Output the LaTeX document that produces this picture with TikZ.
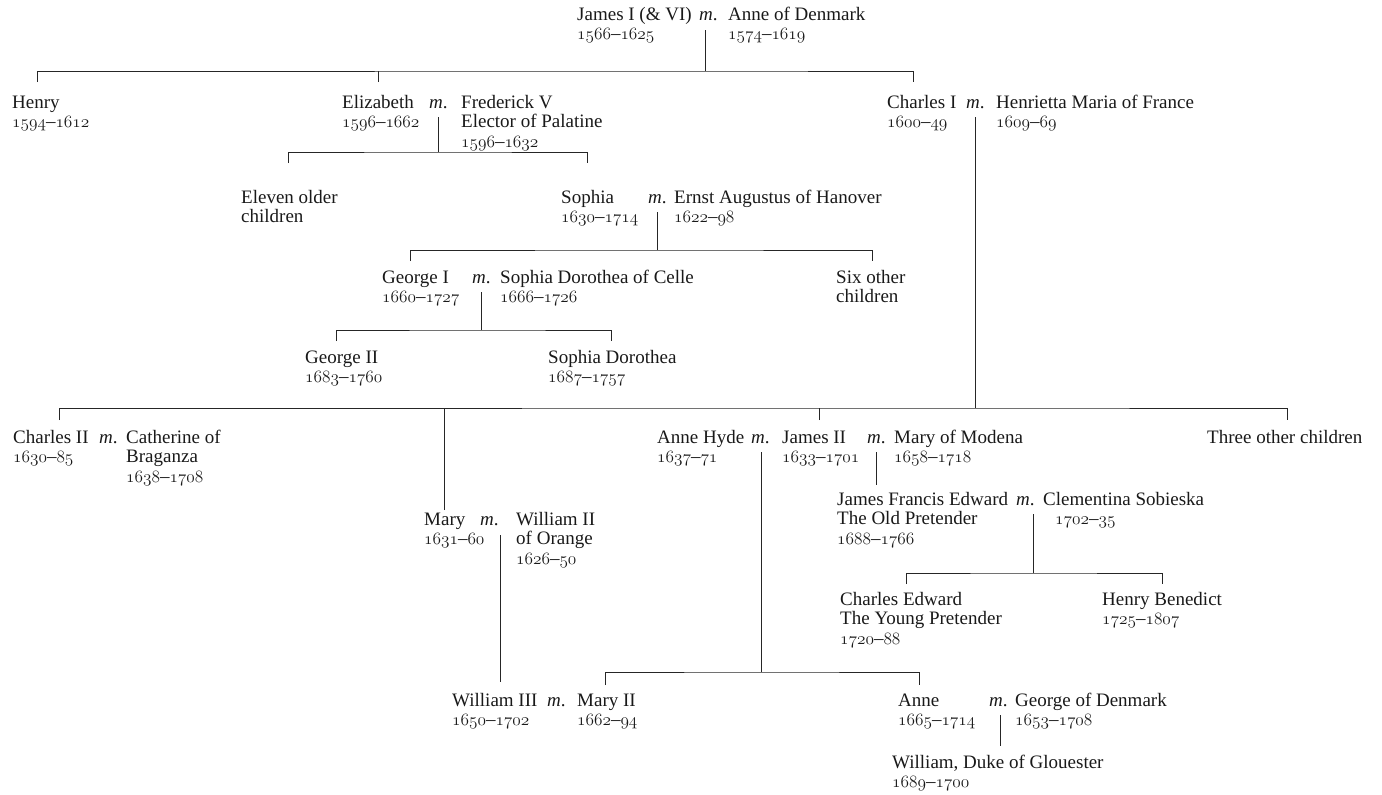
\documentclass[tikz,border=0pt]{standalone}
\usepackage{fontspec}
\setmainfont{Liberation Serif}
\newcommand\yr[2]{\ensuremath{\mathnormal{#1}}–\ensuremath{\mathnormal{#2}}}
\newcommand\pp[1]{\begin{tabular}[t]{@{}l@{}}#1\end{tabular}}
\newcommand\mar{\textit{m}.}
\tikzset{
  pers/.style={anchor=base west, inner sep=0pt, text=black!90,
    font=\fontsize{19}{19.5}\selectfont},
  line/.style={draw=black!85, line width=0.95pt},
}
\begin{document}
\begin{tikzpicture}[x=1pt,y=-1pt]
\useasboundingbox (0,0) rectangle (1382,795);
% Row A
\node[pers] (jamesI) at (577,20) {\pp{James I (\& VI)\\\yr{1566}{1625}}};
\node[pers] (mA) at (699,20) {\mar};
\node[pers] (anneD) at (728,20) {\pp{Anne of Denmark\\\yr{1574}{1619}}};
% Row B
\node[pers] (henry) at (12,108) {\pp{Henry\\\yr{1594}{1612}}};
\node[pers] (elizabeth) at (342,108) {\pp{Elizabeth\\\yr{1596}{1662}}};
\node[pers] (mB) at (429,108) {\mar};
\node[pers] (frederick) at (461,108) {\pp{Frederick V\\Elector of Palatine\\\yr{1596}{1632}}};
\node[pers] (charlesI) at (887,108) {\pp{Charles I\\\yr{1600}{49}}};
\node[pers] (mC) at (966,108) {\mar};
\node[pers] (henrietta) at (996,108) {\pp{Henrietta Maria of France\\\yr{1609}{69}}};
% Row C
\node[pers] (eleven) at (241,203) {\pp{Eleven older\\children}};
\node[pers] (sophia) at (561,203) {\pp{Sophia\\\yr{1630}{1714}}};
\node[pers] (mD) at (648,203) {\mar};
\node[pers] (ernst) at (674,203) {\pp{Ernst Augustus of Hanover\\\yr{1622}{98}}};
% Row D
\node[pers] (georgeI) at (382,283) {\pp{George I\\\yr{1660}{1727}}};
\node[pers] (mE) at (472,283) {\mar};
\node[pers] (sdc) at (500,283) {\pp{Sophia Dorothea of Celle\\\yr{1666}{1726}}};
\node[pers] (six) at (836,283) {\pp{Six other\\children}};
% Row E
\node[pers] (georgeII) at (305,363) {\pp{George II\\\yr{1683}{1760}}};
\node[pers] (sd) at (548,363) {\pp{Sophia Dorothea\\\yr{1687}{1757}}};
% Row F
\node[pers] (charlesII) at (13,443) {\pp{Charles II\\\yr{1630}{85}}};
\node[pers] (mF) at (99,443) {\mar};
\node[pers] (catherine) at (126,443) {\pp{Catherine of\\Braganza\\\yr{1638}{1708}}};
\node[pers] (annehyde) at (657,443) {\pp{Anne Hyde\\\yr{1637}{71}}};
\node[pers] (mG) at (751,443) {\mar};
\node[pers] (jamesII) at (782,443) {\pp{James II\\\yr{1633}{1701}}};
\node[pers] (mH) at (867,443) {\mar};
\node[pers] (maryM) at (894,443) {\pp{Mary of Modena\\\yr{1658}{1718}}};
\node[pers] (three) at (1207,443) {Three other children};
% Row G
\node[pers] (jfe) at (837,505) {\pp{James Francis Edward\\The Old Pretender\\\yr{1688}{1766}}};
\node[pers] (mI) at (1016,505) {\mar};
\node[pers] (clem) at (1043,505) {\pp{Clementina Sobieska\\\hspace*{12pt}\yr{1702}{35}}};
\node[pers] (mary) at (424,525) {\pp{Mary\\\yr{1631}{60}}};
\node[pers] (mJ) at (480,525) {\mar};
\node[pers] (william2) at (516,525) {\pp{William II\\of Orange\\\yr{1626}{50}}};
% Row H
\node[pers] (charlesEd) at (840,605) {\pp{Charles Edward\\The Young Pretender\\\yr{1720}{88}}};
\node[pers] (henryB) at (1102,605) {\pp{Henry Benedict\\\yr{1725}{1807}}};
% Row I
\node[pers] (william3) at (452,706) {\pp{William III\\\yr{1650}{1702}}};
\node[pers] (mK) at (547,706) {\mar};
\node[pers] (mary2) at (577,706) {\pp{Mary II\\\yr{1662}{94}}};
\node[pers] (anne) at (898,706) {\pp{Anne\\\yr{1665}{1714}}};
\node[pers] (mL) at (989,706) {\mar};
\node[pers] (george) at (1015,706) {\pp{George of Denmark\\\yr{1653}{1708}}};
% Row J
\node[pers] (william) at (892,768) {\pp{William, Duke of Glouester\\\yr{1689}{1700}}};

% ---- connectors
% James I & Anne
\coordinate (dA) at (705,30); \coordinate (bA) at (705,71);
\coordinate (tHenry) at (37,82); \coordinate (tElizabeth) at (378,82); \coordinate (tCharlesI) at (913,82);
\draw[line] (dA) -- (bA);
\draw[line] (tHenry) |- (bA) -| (tCharlesI);
\draw[line] (tElizabeth) -- (tElizabeth |- bA);
% Elizabeth & Frederick
\coordinate (dB) at (438,117); \coordinate (bB) at (438,152);
\coordinate (tEleven) at (288,163); \coordinate (tSophia) at (587,163);
\draw[line] (dB) -- (bB);
\draw[line] (tEleven) |- (bB) -| (tSophia);
% Sophia & Ernst
\coordinate (dD) at (657,212); \coordinate (bD) at (657,250);
\coordinate (tGeorgeI) at (410,261); \coordinate (tSix) at (872,261);
\draw[line] (dD) -- (bD);
\draw[line] (tGeorgeI) |- (bD) -| (tSix);
% George I & Sophia Dorothea of Celle
\coordinate (dE) at (481,292); \coordinate (bE) at (481,330);
\coordinate (tGeorgeII) at (336,341); \coordinate (tSD) at (611,341);
\draw[line] (dE) -- (bE);
\draw[line] (tGeorgeII) |- (bE) -| (tSD);
% Charles I & Henrietta
\coordinate (dC) at (975,117); \coordinate (bC) at (975,408);
\coordinate (tCharlesII) at (59,420); \coordinate (tMary) at (444,510);
\coordinate (tJamesII) at (819,420); \coordinate (tThree) at (1287,420);
\draw[line] (dC) -- (bC);
\draw[line] (tCharlesII) |- (bC) -| (tThree);
\draw[line] (tMary) -- (tMary |- bC);
\draw[line] (tJamesII) -- (tJamesII |- bC);
% Mary & William II
\coordinate (dJ) at (500,535); \coordinate (tWilliam3) at (500,682);
\draw[line] (dJ) -- (tWilliam3);
% Anne Hyde & James II
\coordinate (dG) at (761,452); \coordinate (bG) at (761,672);
\coordinate (tMary2) at (605,685); \coordinate (tAnne) at (919,685);
\draw[line] (dG) -- (bG);
\draw[line] (tMary2) |- (bG) -| (tAnne);
% James II & Mary of Modena
\coordinate (dH) at (876,452); \coordinate (tJFE) at (876,485);
\draw[line] (dH) -- (tJFE);
% James Francis Edward & Clementina
\coordinate (dI) at (1033,514); \coordinate (bI) at (1033,573);
\coordinate (tCE) at (906,584); \coordinate (tHB) at (1162,584);
\draw[line] (dI) -- (bI);
\draw[line] (tCE) |- (bI) -| (tHB);
% Anne & George of Denmark
\coordinate (dL) at (1000,715); \coordinate (tWilliam) at (1000,746);
\draw[line] (dL) -- (tWilliam);
\end{tikzpicture}
\end{document}
